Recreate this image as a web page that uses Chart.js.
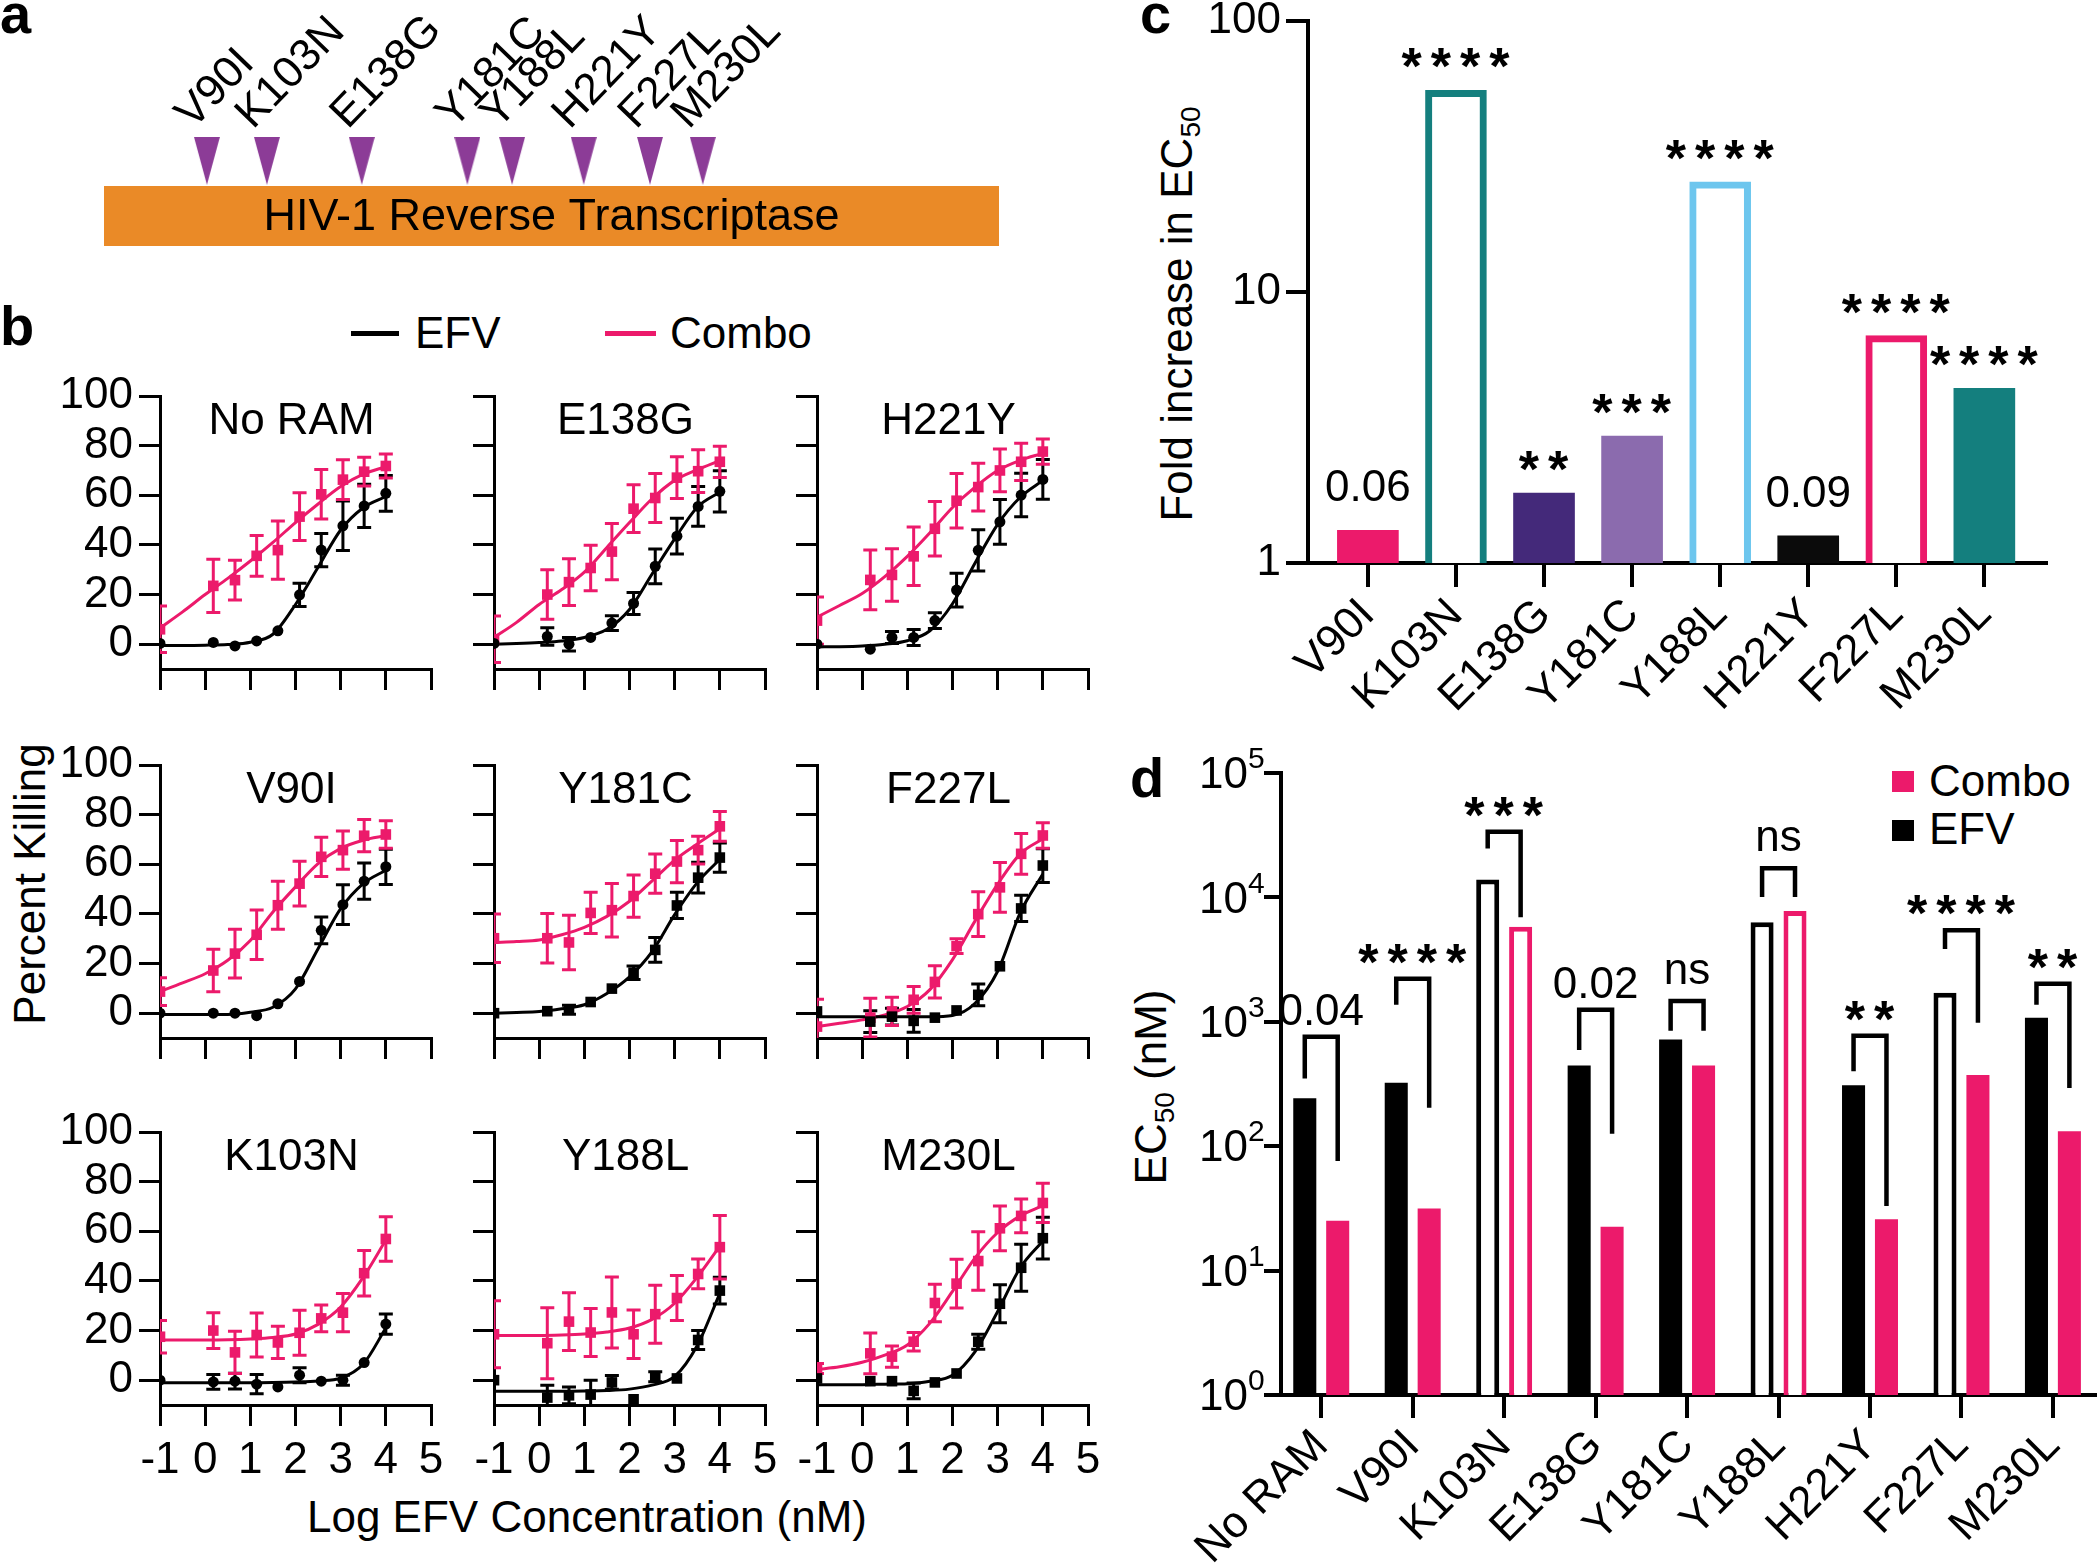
<!DOCTYPE html>
<html>
<head>
<meta charset="utf-8">
<script src="https://cdn.jsdelivr.net/npm/chart.js@4.4.1/dist/chart.umd.min.js"></script>
<style>
  html, body { margin: 0; padding: 0; background: #fff; }
  #fig { position: relative; width: 2100px; height: 1565px; overflow: hidden;
         font-family: 'Liberation Sans', Arial, sans-serif; color: #000; }
  #fig canvas { position: absolute; }
  .txt { position: absolute; white-space: nowrap; font-size: 44px; line-height: 44px; }
  .letter { position: absolute; font-size: 56px; line-height: 56px; font-weight: bold; }
  .vert { transform: translate(-50%, -50%) rotate(-90deg); }
  .swatch { position: absolute; }
  sub { font-size: 28px; line-height: 0; vertical-align: -8px; }
</style>
</head>
<body>
<div id="fig">
  <div class="letter" style="left:0;top:-14px">a</div>
  <div class="letter" style="left:0;top:298px">b</div>
  <div class="letter" style="left:1140px;top:-14px">c</div>
  <div class="letter" style="left:1130px;top:750px">d</div>

  <!-- legend of panel b -->
  <div class="swatch" style="left:351px;top:331px;width:48px;height:5px;background:#000"></div>
  <div class="txt" style="left:415px;top:311px">EFV</div>
  <div class="swatch" style="left:605px;top:331px;width:51px;height:5px;background:#EC1A6B"></div>
  <div class="txt" style="left:670px;top:311px">Combo</div>

  <div class="txt vert" style="left:30px;top:884px">Percent Killing</div>
  <div class="txt" style="left:587px;top:1517px;transform:translate(-50%,-50%)">Log EFV Concentration (nM)</div>
  <div class="txt vert" style="left:1177px;top:314px">Fold increase in EC<sub>50</sub></div>
  <div class="txt vert" style="left:1151px;top:1087px">EC<sub>50</sub> (nM)</div>

  <!-- legend of panel d -->
  <div class="swatch" style="left:1892px;top:771px;width:22px;height:21px;background:#EC1A6B"></div>
  <div class="txt" style="left:1929px;top:759px">Combo</div>
  <div class="swatch" style="left:1892px;top:820px;width:22px;height:21px;background:#000"></div>
  <div class="txt" style="left:1929px;top:807px">EFV</div>
</div>

<script>
'use strict';

// ---- panel a : mutations along the RT schematic ----
var rtName = 'HIV-1 Reverse Transcriptase';
var rtLength = 100;
var rtMutations = ['V90I', 'K103N', 'E138G', 'Y181C', 'Y188L', 'H221Y', 'F227L', 'M230L'];
var rtMutPos = [11.5, 18.2, 28.8, 40.6, 45.6, 53.6, 61.0, 66.9];

// ---- panel b : percent killing ----
var killPanels = ['No RAM', 'E138G', 'H221Y', 'V90I', 'Y181C', 'F227L', 'K103N', 'Y188L', 'M230L'];
var logConc = [-1, 0.18, 0.66, 1.14, 1.61, 2.09, 2.57, 3.05, 3.52, 4.0];
var fitLogConc = [-1, -0.5, 0, 0.5, 1, 1.5, 2, 2.5, 3, 3.5, 4];
var killTicksX = [-1, 0, 1, 2, 3, 4, 5];
var killTicksY = [0, 20, 40, 60, 80, 100];

var efvKill = [
    [0.3, 0.7, -0.7, 1.3, 5.4, 19.9, 37.9, 47.7, 55.7, 60.8],
    [0.3, 3.1, 0, 2.7, 8.5, 16.4, 31.4, 43.5, 55.5, 61.6],
    [0, -2, 2.7, 2.7, 9.5, 21.8, 37.8, 49.3, 60.1, 66.4],
    [0, 0, 0, -1, 3.8, 12.8, 33.4, 43.7, 53.2, 59],
    [0, 0.8, 1.4, 4.5, 9.9, 16.3, 25.5, 43.4, 54.6, 62.7],
    [0.7, -3.4, -1.4, -3.1, -1.8, 1.1, 7.4, 18.9, 42.2, 59.5],
    [0, -0.7, -0.4, -1.6, -2.7, 2, -0.4, 0, 7.1, 22.6],
    [0, -7, -6.1, -5.8, -0.9, -7.7, 1.4, 0.7, 16.2, 36.1],
    [0.7, -0.4, -0.4, -4.3, -0.9, 2.7, 15.5, 30.8, 45.3, 57.2]
];
var efvKillSd = [
    [0, 0, 0, 0, 0, 4.7, 6.7, 10, 8.7, 7.2],
    [0, 3.5, 2.7, 0, 3, 4.4, 7, 7.2, 8, 8.3],
    [0, 0, 2.4, 3.2, 3.2, 6.8, 8.3, 9, 8.8, 8],
    [0, 0, 0, 0, 0, 0, 5.4, 8, 7.3, 7.1],
    [0, 0, 1.8, 0, 0, 2.7, 5, 5.3, 6.2, 5.9],
    [0, 4.4, 3.4, 4.6, 0, 0, 4.4, 0, 5.3, 6.8],
    [0, 3, 3.2, 3.9, 0, 3, 0, 2, 0, 4.1],
    [0, 5, 3.4, 5.8, 2.8, 0, 2, 0, 3.8, 5.4],
    [0, 0, 0, 3.2, 0, 0, 3, 7.7, 9.5, 8.4]
];
var comboKill = [
    [6, 23.5, 25.8, 35.6, 37.9, 51.4, 60.4, 66.3, 69.5, 71.8],
    [2, 20, 25, 30.7, 37.3, 54.6, 58.9, 67.1, 69.7, 73.5],
    [9.5, 25.9, 27.9, 35.4, 46.5, 57.8, 63.3, 70, 73.5, 77.6],
    [8.7, 17.2, 24, 31.6, 43.5, 52.2, 63, 65.7, 71.5, 72],
    [30.2, 30.2, 28.5, 40.4, 41.5, 47.2, 56.2, 61.1, 65.7, 75.3],
    [-5.4, -1.8, 0.7, 5.4, 12.6, 27, 39.9, 50.7, 64.2, 71.6],
    [17.5, 20, 11.2, 18.2, 15.2, 19.1, 24.9, 27.2, 43.1, 56.9],
    [18.5, 14.9, 23.6, 19.2, 27.3, 18.5, 26.6, 33.1, 42.8, 53.6],
    [4.7, 10.8, 9.5, 15.5, 31.1, 38.9, 48, 61.2, 66.2, 71.4]
];
var comboKillSd = [
    [9.4, 10.7, 8, 8.2, 11.7, 9.6, 10, 8, 5.8, 4.8],
    [9.4, 10, 9.4, 9.2, 11.3, 9.6, 9.9, 8.4, 8.6, 6.3],
    [9.5, 12, 10.6, 11.8, 11, 11, 9.6, 8.6, 7.5, 5.1],
    [5.6, 8.6, 9.8, 10, 9.7, 9, 7.9, 7.7, 6.5, 5.5],
    [9.8, 10, 11, 8.3, 10.8, 8.5, 7.9, 8.5, 5.6, 6],
    [11, 7.8, 5.7, 5.4, 6.5, 3, 9, 10, 8.2, 5.1],
    [6.5, 7.2, 8.5, 8.9, 6.5, 9.1, 5.4, 7.7, 9.2, 9],
    [13.5, 14.3, 11.6, 9.7, 14.3, 9.8, 11.7, 9.1, 6, 12.8],
    [2, 8.2, 4.3, 3.7, 7.6, 9.8, 11.8, 9, 6.8, 7.9]
];
// fitted curves at fitLogConc
var efvFit = [
    [-0.5, -0.5, -0.4, -0.1, 0.8, 4, 16, 31, 46, 55, 59.5],
    [0, 0.3, 0.7, 1.3, 2.7, 6, 14, 28.3, 42.4, 55.2, 61.3],
    [-1.1, -1, -0.7, 0, 1.4, 5.4, 16.3, 32.7, 48.3, 59.2, 66],
    [-0.5, -0.5, -0.5, -0.5, 0.4, 2.4, 9.8, 26, 42.1, 52.2, 57.6],
    [0, 0.3, 0.7, 1.8, 3.4, 7.9, 14.6, 24.8, 39.7, 52.6, 62],
    [-1.4, -1.4, -1.4, -1.4, -1.4, -1.4, -0.9, 4, 16.9, 40.5, 56.1],
    [-1, -1, -1, -1, -1, -0.9, -0.7, -0.3, 0.8, 6.5, 21],
    [-4.5, -4.5, -4.5, -4.5, -4.4, -4.2, -3.6, -2, 1.5, 14, 35],
    [-1.8, -1.8, -1.8, -1.6, -1.4, -0.4, 2, 11.5, 27.7, 45.3, 56.1]
];
var comboFit = [
    [6.5, 13, 20, 26.5, 33.5, 41, 49, 56.5, 63.5, 68.5, 71.5],
    [2.7, 8.8, 16, 22, 29, 39, 49, 58.6, 66, 70.3, 74],
    [10.9, 15.6, 20.4, 27.2, 35.4, 44.9, 55.1, 63.3, 70, 74.1, 76.9],
    [8.7, 12.2, 15.9, 21.3, 29.3, 40.8, 50.9, 60.3, 66.4, 69.7, 71.5],
    [28.5, 28.9, 29.5, 31.6, 34.6, 39, 45.1, 53.3, 61.7, 68.2, 74.3],
    [-5.4, -4.1, -2.7, -0.7, 2.7, 9.5, 21.6, 37.2, 52, 64.2, 70.3],
    [16.2, 16.2, 16.2, 16.3, 16.6, 17.2, 18.6, 22.5, 29.5, 41.5, 56.5],
    [18, 18, 18, 18.2, 18.6, 19.4, 21, 24.5, 31, 41.5, 54],
    [4.3, 5.4, 7.2, 10.1, 14.2, 23, 35.8, 49.3, 59.5, 66.2, 70.3]
];

// ---- panel c : fold increase in EC50 ----
var foldMutants = ['V90I', 'K103N', 'E138G', 'Y181C', 'Y188L', 'H221Y', 'F227L', 'M230L'];
var foldIncrease = [1.32, 55.5, 1.81, 2.94, 25.5, 1.26, 6.9, 4.41];
var foldSig = ['0.06', '****', '**', '***', '****', '0.09', '****', '****'];
var foldTicks = [1, 10, 100];

// ---- panel d : EC50 ----
var ec50Groups = ['No RAM', 'V90I', 'K103N', 'E138G', 'Y181C', 'Y188L', 'H221Y', 'F227L', 'M230L'];
var ec50Efv = [243, 324, 13900, 445, 721, 6300, 309, 1715, 1080];
var ec50Combo = [25.2, 31.5, 5800, 22.5, 445, 7790, 25.9, 374, 132];
var ec50Ticks = [1, 10, 100, 1000, 10000, 100000];
// comparison brackets, in nM: left leg end, bar of the bracket, right leg end
var bracketLeft = [350, 1374, 24700, 594, 849, 10090, 401, 3855, 1374];
var bracketTop = [757, 2223, 33650, 1247, 1469, 17140, 771, 5445, 2018];
var bracketRight = [76, 204, 6930, 126, 849, 10090, 33, 982, 294];
var ec50Sig = ['0.04', '****', '***', '0.02', 'ns', 'ns', '**', '****', '**'];

// ---- styles ----
var FAMILY = "'Liberation Sans', Arial, sans-serif";
var FONT = '44px ' + FAMILY;
var PINK = '#EC1A6B';
var efvMarker = ['circle', 'circle', 'circle', 'circle', 'rect', 'rect', 'circle', 'rect', 'rect'];
var foldFill = [PINK, '#fff', '#44297A', '#8B6BAE', '#fff', '#0B0B0B', '#fff', '#147F7E'];
var foldEdge = [PINK, '#147F7E', '#44297A', '#8B6BAE', '#6DC6EE', '#0B0B0B', PINK, '#147F7E'];
var foldOpen = [false, true, false, false, true, false, true, false];
var efvOpen = [false, false, true, false, false, true, false, true, false];
var comboOpen = [false, false, true, false, false, true, false, false, false];

Chart.defaults.font.family = FAMILY;
Chart.defaults.font.size = 44;
Chart.defaults.color = '#000';
Chart.defaults.animation = false;
Chart.defaults.responsive = false;
Chart.defaults.devicePixelRatio = 1;
Chart.defaults.layout.autoPadding = false;
Chart.defaults.plugins.legend.display = false;
Chart.defaults.plugins.tooltip.enabled = false;

/**
 * Make an absolutely placed canvas inside the figure.
 */
function place(left, top, width, height) {
    var cv = document.createElement('canvas');
    cv.width = width;
    cv.height = height;
    cv.style.left = left + 'px';
    cv.style.top = top + 'px';
    document.getElementById('fig').appendChild(cv);
    return cv;
}

// black axis line with outside ticks, no grid
function axisLook(tickLength, lineWidth, extra) {
    return Object.assign({
        grid: { offset: false, drawOnChartArea: false, drawTicks: true, tickLength: tickLength, lineWidth: lineWidth, color: '#000' },
        border: { display: true, color: '#000', width: lineWidth }
    }, extra);
}

/**
 * Draw a significance label centred on (cx, cy).
 */
function drawSig(ctx, text, cx, cy) {
    ctx.save();
    ctx.fillStyle = '#000';
    ctx.textAlign = 'center';
    ctx.textBaseline = 'alphabetic';
    if (text.indexOf('*') >= 0) {
        ctx.font = 'bold 52px ' + FAMILY;
        ctx.letterSpacing = '9px';
        ctx.fillText(text, cx + 4, cy + 29);
    } else if (/\d/.test(text)) {
        ctx.font = FONT;
        ctx.fillText(text, cx, cy + 16);
    } else {
        ctx.font = FONT;
        ctx.fillText(text, cx, cy + 11);
    }
    ctx.restore();
}

// ================= panel a =================
var triangle = document.createElement('canvas');
triangle.width = 26;
triangle.height = 48;
(function () {
    var t = triangle.getContext('2d');
    t.fillStyle = '#8C3C97';
    t.beginPath();
    t.moveTo(0, 0);
    t.lineTo(26, 0);
    t.lineTo(13, 48);
    t.closePath();
    t.fill();
})();

var rtLabels = {
    id: 'rtLabels',
    afterDatasetsDraw: function (chart) {
        var ctx = chart.ctx, x = chart.scales.x, y = chart.scales.y;
        ctx.save();
        ctx.fillStyle = '#000';
        ctx.font = '45px ' + FAMILY;
        ctx.textAlign = 'center';
        ctx.textBaseline = 'middle';
        ctx.fillText(rtName, x.getPixelForValue(rtLength / 2), y.getPixelForValue(0.5) + 2);
        ctx.font = FONT;
        ctx.textAlign = 'left';
        ctx.textBaseline = 'alphabetic';
        for (var i = 0; i < rtMutations.length; i++) {
            ctx.save();
            ctx.translate(x.getPixelForValue(rtMutPos[i]) - 14, 130);
            ctx.rotate(-46 * Math.PI / 180);
            ctx.fillText(rtMutations[i], 0, 0);
            ctx.restore();
        }
        ctx.restore();
    }
};

new Chart(place(104, 0, 895, 246), {
    type: 'scatter',
    data: {
        datasets: [
            {
                data: rtMutPos.map(function (p) { return { x: p, y: 1.42 }; }),
                pointStyle: triangle, pointRadius: 13
            },
            {
                type: 'line',
                data: [{ x: 0, y: 1 }, { x: rtLength, y: 1 }],
                fill: 'origin', backgroundColor: '#EA8A27', borderWidth: 0, pointRadius: 0
            }
        ]
    },
    options: {
        layout: { padding: 0 },
        scales: {
            x: { type: 'linear', display: false, min: 0, max: rtLength },
            y: { display: false, min: 0, max: 4.1 }
        }
    },
    plugins: [rtLabels]
});

// ================= panel b =================
var KILL_COL_X = [160, 494, 817];
var KILL_ROW_Y = [396, 765, 1132];
var KILL_W = 271, KILL_H = 273;

var errorBars = {
    id: 'errorBars',
    beforeDatasetsDraw: function (chart) {
        var ctx = chart.ctx, area = chart.chartArea, x = chart.scales.x, y = chart.scales.y;
        ctx.save();
        ctx.beginPath();
        ctx.rect(area.left, area.top - 30, area.width + 30, area.height + 30);
        ctx.clip();
        chart.data.datasets.forEach(function (ds) {
            if (!ds.errors) return;
            ctx.strokeStyle = ds.backgroundColor;
            ctx.lineWidth = 3;
            ds.data.forEach(function (p, k) {
                var e = ds.errors[k];
                if (!e) return;
                var px = x.getPixelForValue(p.x);
                var lo = y.getPixelForValue(p.y - e), hi = y.getPixelForValue(p.y + e);
                ctx.beginPath();
                ctx.moveTo(px, lo); ctx.lineTo(px, hi);
                ctx.moveTo(px - 7, lo); ctx.lineTo(px + 7, lo);
                ctx.moveTo(px - 7, hi); ctx.lineTo(px + 7, hi);
                ctx.stroke();
            });
        });
        ctx.restore();
    }
};

var panelTitle = {
    id: 'panelTitle',
    afterDraw: function (chart, args, opts) {
        var ctx = chart.ctx;
        ctx.save();
        ctx.fillStyle = '#000';
        ctx.font = FONT;
        ctx.textAlign = 'center';
        ctx.textBaseline = 'middle';
        ctx.fillText(opts.text, chart.scales.x.getPixelForValue(2) - 4, chart.chartArea.top + 26);
        ctx.restore();
    }
};

function points(xs, ys) {
    return xs.map(function (x, k) { return { x: x, y: ys[k] }; });
}

function killingChart(i) {
    var row = Math.floor(i / 3), col = i % 3;
    var axisW = 100, padTop = 40, padRight = 24;
    var xAxisH = row === 2 ? 100 : 40;
    var cv = place(KILL_COL_X[col] - axisW, KILL_ROW_Y[row] - padTop,
        axisW + KILL_W + padRight, padTop + KILL_H + xAxisH);

    new Chart(cv, {
        type: 'scatter',
        data: {
            datasets: [
                {
                    data: points(logConc, efvKill[i]), errors: efvKillSd[i],
                    pointStyle: efvMarker[i], pointRadius: efvMarker[i] === 'rect' ? 7.5 : 5.5,
                    backgroundColor: '#000', borderWidth: 0,
                    clip: { left: 0, top: 20, right: 20, bottom: 20 }
                },
                {
                    data: points(logConc, comboKill[i]), errors: comboKillSd[i],
                    pointStyle: 'rect', pointRadius: 7.5,
                    backgroundColor: PINK, borderWidth: 0,
                    clip: { left: 0, top: 20, right: 20, bottom: 20 }
                },
                {
                    type: 'line', data: points(fitLogConc, efvFit[i]),
                    borderColor: '#000', borderWidth: 3, pointRadius: 0,
                    cubicInterpolationMode: 'monotone', fill: false
                },
                {
                    type: 'line', data: points(fitLogConc, comboFit[i]),
                    borderColor: PINK, borderWidth: 3, pointRadius: 0,
                    cubicInterpolationMode: 'monotone', fill: false
                }
            ]
        },
        options: {
            layout: { padding: { left: 0, top: padTop, right: padRight, bottom: 0 } },
            plugins: { panelTitle: { text: killPanels[i] } },
            scales: {
                x: axisLook(21, 3, {
                    type: 'linear', min: -1, max: 5,
                    afterBuildTicks: function (s) { s.ticks = killTicksX.map(function (v) { return { value: v }; }); },
                    ticks: { display: row === 2, autoSkip: false, maxRotation: 0, padding: 8 },
                    afterFit: function (s) { s.height = xAxisH; }
                }),
                y: axisLook(21, 3, {
                    type: 'linear', min: -10, max: 100,
                    afterBuildTicks: function (s) { s.ticks = killTicksY.map(function (v) { return { value: v }; }); },
                    ticks: { display: col === 0, autoSkip: false, padding: 6 },
                    afterFit: function (s) { s.width = axisW; }
                })
            }
        },
        plugins: [errorBars, panelTitle]
    });
}

for (var p = 0; p < killPanels.length; p++) {
    killingChart(p);
}

// ================= panel c =================
var foldLabels = {
    id: 'foldLabels',
    afterDatasetsDraw: function (chart) {
        chart.getDatasetMeta(0).data.forEach(function (bar, i) {
            var s = foldSig[i];
            drawSig(chart.ctx, s, bar.x, bar.y - (s.indexOf('*') >= 0 ? 35 : 45));
        });
    }
};

new Chart(place(1188, -20, 888, 760), {
    type: 'bar',
    data: {
        datasets: [{
            data: foldMutants.map(function (m, i) { return { x: i, y: foldIncrease[i] }; }),
            backgroundColor: foldFill,
            borderColor: foldEdge,
            borderWidth: foldOpen.map(function (o) { return o ? 7 : 0; }),
            borderSkipped: 'bottom',
            barThickness: 61
        }]
    },
    options: {
        layout: { padding: { left: 0, top: 41, right: 30, bottom: 0 } },
        scales: {
            x: axisLook(24, 4, {
                type: 'linear', min: -0.68, max: 7.7, offset: false,
                afterBuildTicks: function (s) { s.ticks = foldMutants.map(function (m, i) { return { value: i }; }); },
                ticks: {
                    autoSkip: false, minRotation: 45, maxRotation: 45, padding: 2,
                    callback: function (v, i) { return foldMutants[i]; }
                },
                afterFit: function (s) { s.height = 177; }
            }),
            y: axisLook(22, 4, {
                type: 'logarithmic', min: 1, max: 100,
                afterBuildTicks: function (s) { s.ticks = foldTicks.map(function (v) { return { value: v }; }); },
                ticks: { autoSkip: false, padding: 5, callback: function (v) { return String(v); } },
                afterFit: function (s) { s.width = 120; }
            })
        }
    },
    plugins: [foldLabels]
});

// ================= panel d =================
var powerTicks = {
    id: 'powerTicks',
    afterDraw: function (chart) {
        var ctx = chart.ctx, y = chart.scales.y;
        ctx.save();
        ctx.fillStyle = '#000';
        ctx.textBaseline = 'middle';
        y.ticks.forEach(function (t) {
            var py = y.getPixelForValue(t.value);
            ctx.font = FONT;
            ctx.textAlign = 'right';
            ctx.fillText('10', y.right - 33, py + 3);
            ctx.font = '30px ' + FAMILY;
            ctx.textAlign = 'left';
            ctx.fillText(String(Math.round(Math.log10(t.value))), y.right - 33, py - 13);
        });
        ctx.restore();
    }
};

var ec50Brackets = {
    id: 'ec50Brackets',
    afterDatasetsDraw: function (chart) {
        var ctx = chart.ctx, y = chart.scales.y;
        var efvBars = chart.getDatasetMeta(0).data, comboBars = chart.getDatasetMeta(1).data;
        ctx.save();
        ctx.strokeStyle = '#000';
        ctx.lineWidth = 4.5;
        ctx.lineJoin = 'miter';
        ec50Groups.forEach(function (g, i) {
            var xl = efvBars[i].x, xr = comboBars[i].x;
            var yt = y.getPixelForValue(bracketTop[i]);
            ctx.beginPath();
            ctx.moveTo(xl, y.getPixelForValue(bracketLeft[i]));
            ctx.lineTo(xl, yt);
            ctx.lineTo(xr, yt);
            ctx.lineTo(xr, y.getPixelForValue(bracketRight[i]));
            ctx.stroke();
            drawSig(ctx, ec50Sig[i], (xl + xr) / 2, yt - 28);
        });
        ctx.restore();
    }
};

new Chart(place(1166, 733, 934, 832), {
    type: 'bar',
    data: {
        datasets: [
            {
                label: 'EFV',
                data: ec50Groups.map(function (g, i) { return { x: i, y: ec50Efv[i] }; }),
                backgroundColor: efvOpen.map(function (o) { return o ? '#fff' : '#000'; }),
                borderColor: '#000',
                borderWidth: efvOpen.map(function (o) { return o ? 5 : 0; }),
                borderSkipped: 'bottom',
                categoryPercentage: 0.72, barPercentage: 0.7
            },
            {
                label: 'Combo',
                data: ec50Groups.map(function (g, i) { return { x: i, y: ec50Combo[i] }; }),
                backgroundColor: comboOpen.map(function (o) { return o ? '#fff' : PINK; }),
                borderColor: PINK,
                borderWidth: comboOpen.map(function (o) { return o ? 5 : 0; }),
                borderSkipped: 'bottom',
                categoryPercentage: 0.72, barPercentage: 0.7
            }
        ]
    },
    options: {
        layout: { padding: { left: 0, top: 40, right: 5, bottom: 0 } },
        scales: {
            x: axisLook(23, 4, {
                type: 'linear', min: -0.44, max: 8.46, offset: false,
                afterBuildTicks: function (s) { s.ticks = ec50Groups.map(function (g, i) { return { value: i }; }); },
                ticks: {
                    autoSkip: false, minRotation: 45, maxRotation: 45, padding: 2,
                    callback: function (v, i) { return ec50Groups[i]; }
                },
                afterFit: function (s) { s.height = 170; }
            }),
            y: axisLook(17, 4, {
                type: 'logarithmic', min: 1, max: 100000,
                afterBuildTicks: function (s) { s.ticks = ec50Ticks.map(function (v) { return { value: v }; }); },
                ticks: { display: false },
                afterFit: function (s) { s.width = 115; }
            })
        }
    },
    plugins: [ec50Brackets, powerTicks]
});
</script>
</body>
</html>
